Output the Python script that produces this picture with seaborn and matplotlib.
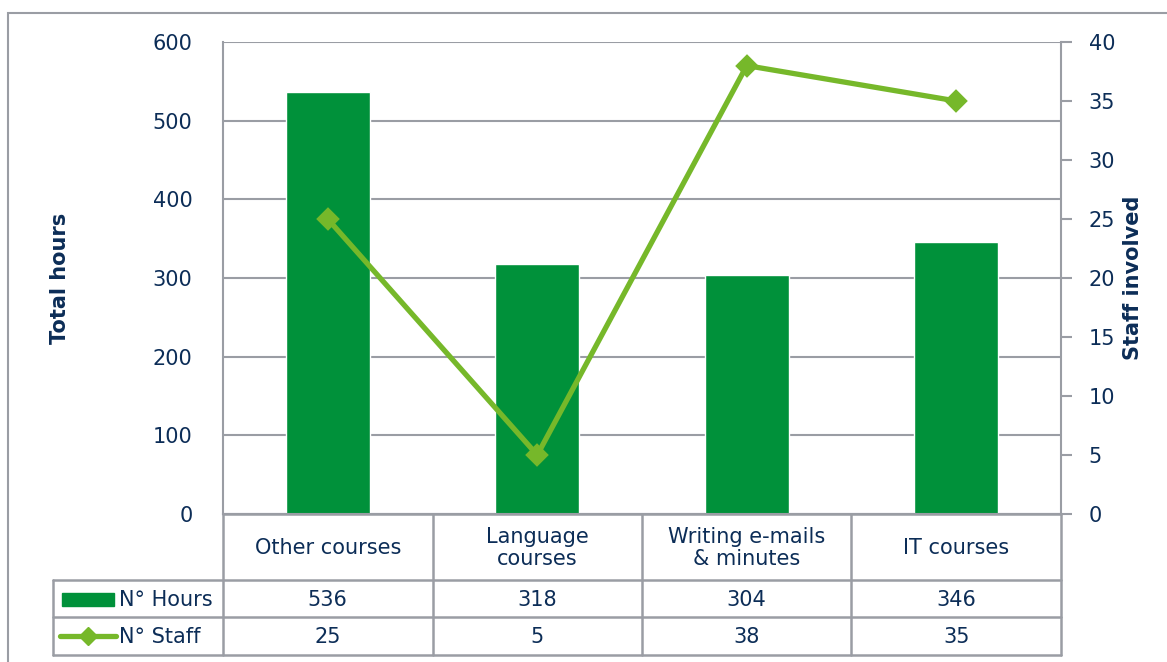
import matplotlib
matplotlib.use("Agg")
import matplotlib.pyplot as plt
import matplotlib.patches as mpatches
from matplotlib.lines import Line2D
import seaborn as sns

# data
categories = ["Other courses", "Language courses", "Writing e-mails & minutes", "IT courses"]
cat_labels = ["Other courses", "Language\ncourses", "Writing e-mails\n& minutes", "IT courses"]
hours = [536, 318, 304, 346]
staff = [25, 5, 38, 35]
hours_ticks = [0, 100, 200, 300, 400, 500, 600]
staff_ticks = [0, 5, 10, 15, 20, 25, 30, 35, 40]

dark = "#0C2D57"
bar_green = "#00913A"
line_green = "#76B82A"
grey = "#9A9DA4"
fs = 15

sns.set_style("white")
plt.rcParams["font.family"] = ["DejaVu Sans"]

W, H = 1167, 662
fig = plt.figure(figsize=(W / 100, H / 100), dpi=100)

# outer frame
fig.patches.append(mpatches.Rectangle((8 / W, -0.1), 1.2, 1 - 13 / H + 0.1,
                                      transform=fig.transFigure, fill=False,
                                      edgecolor=grey, lw=1.5))

ax = fig.add_axes([223 / W, 1 - 514 / H, (1061 - 223) / W, (514 - 42) / H])
sns.barplot(x=categories, y=hours, color=bar_green, width=0.4, saturation=1,
            ax=ax, zorder=2)
ax.set_xlim(-0.5, 3.5)
ax.set_ylim(0, 600)
ax.set_yticks(hours_ticks)
ax.set_xticks([])
ax.set_xlabel("")
ax.set_ylabel("")
ax.set_axisbelow(True)
ax.yaxis.grid(True, color=grey, lw=1.5)
ax.tick_params(axis="y", length=0, pad=22, labelsize=fs, labelcolor=dark)
for s in ["top", "right"]:
    ax.spines[s].set_visible(False)
for s in ["left", "bottom"]:
    ax.spines[s].set_color(grey)
    ax.spines[s].set_linewidth(1.5)

ax2 = ax.twinx()
sns.pointplot(x=categories, y=staff, color=line_green, markers="D",
              markersize=9.5, linewidth=3.8, ax=ax2)
ax2.set_xlim(-0.5, 3.5)
ax2.set_ylim(0, 40)
ax2.set_yticks(staff_ticks)
ax2.set_ylabel("")
ax2.tick_params(axis="y", length=8, width=1.5, color=grey, pad=12,
                labelsize=fs, labelcolor=dark)
for s in ["top", "left", "bottom"]:
    ax2.spines[s].set_visible(False)
ax2.spines["right"].set_color(grey)
ax2.spines["right"].set_linewidth(1.5)

fig.text(60 / W, 1 - 278 / H, "Total hours", rotation=90, ha="center",
         va="center", fontsize=fs, fontweight="bold", color=dark)
fig.text(1133 / W, 1 - 278 / H, "Staff involved", rotation=90, ha="center",
         va="center", fontsize=fs, fontweight="bold", color=dark)

# data table below the chart
col_w = (1061 - 223) / 4
hw = (223 - 53) / col_w
left = -0.5 - hw
tax = fig.add_axes([53 / W, 1 - 656 / H, (1061 - 53) / W, (656 - 514) / H])
tax.set_xlim(left, 3.5)
tax.set_ylim(656, 514)
tax.axis("off")

r0, r1, r2, r3 = 514, 580, 617, 655
lk = dict(color=grey, lw=1.8, clip_on=False)
tax.plot([-0.5, 3.5], [r0, r0], **lk)
for y in [r1, r2, r3]:
    tax.plot([left, 3.5], [y, y], **lk)
for x in [-0.5, 0.5, 1.5, 2.5, 3.5]:
    tax.plot([x, x], [r0, r3], **lk)
tax.plot([left, left], [r1, r3], **lk)

for i, lab in enumerate(cat_labels):
    tax.text(i, (r0 + r1) / 2 + 1, lab, ha="center", va="center", fontsize=fs,
             color=dark, linespacing=1.15)
    tax.text(i, (r1 + r2) / 2 + 1, str(hours[i]), ha="center", va="center",
             fontsize=fs, color=dark)
    tax.text(i, (r2 + r3) / 2 + 1, str(staff[i]), ha="center", va="center",
             fontsize=fs, color=dark)

# legend keys in the row headers
px = 1 / col_w
tax.add_patch(mpatches.Rectangle((left + 9 * px, (r1 + r2) / 2 - 6), 52 * px, 13,
                                 color=bar_green, clip_on=False))
tax.add_line(Line2D([left + 7 * px, left + 63 * px], [(r2 + r3) / 2] * 2,
                    color=line_green, lw=3.8, clip_on=False))
tax.add_line(Line2D([left + 35 * px], [(r2 + r3) / 2], color=line_green,
                    marker="D", markersize=9, clip_on=False))
tax.text(left + 66 * px, (r1 + r2) / 2 + 1, "N° Hours", ha="left", va="center",
         fontsize=fs, color=dark)
tax.text(left + 66 * px, (r2 + r3) / 2 + 1, "N° Staff", ha="left", va="center",
         fontsize=fs, color=dark)

fig.savefig("out.png", dpi=100)
